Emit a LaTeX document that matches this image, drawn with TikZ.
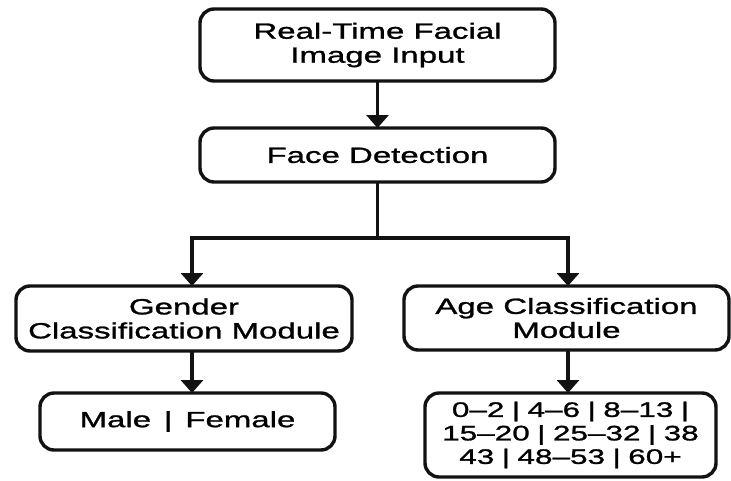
\documentclass[tikz,border=0pt]{standalone}
\usepackage{fontspec}
\setmainfont{Liberation Sans}[FakeStretch=1.5,FakeBold=1.2]
\usetikzlibrary{arrows.meta}
\newcommand\agesep{\hspace{7.5pt}|\hspace{7.5pt}}
\begin{document}
\begin{tikzpicture}[x=1pt,y=-1pt,
  box/.style={draw=black!93, line width=3.4pt, rounded corners=14pt, align=center,
    font=\fontsize{22}{24}\selectfont, inner sep=0pt, outer sep=0pt},
  wire/.style={draw=black!93, line width=3.4pt},
  flow/.style={wire, -{Triangle[width=22pt,length=13pt]}}]
\useasboundingbox[fill=white] (0,0) rectangle (731,480);

% pipeline stages
\node[box, minimum width=355pt, minimum height=72pt] (input) at (377.5,45) {Real-Time Facial\\Image Input};
\node[box, minimum width=355pt, minimum height=54pt] (face) at (377.5,155) {Face Detection};
\node[box, minimum width=336pt, minimum height=65pt] (gender) at (184,318.5) {Gender\\Classification Module};
\node[box, minimum width=325pt, minimum height=64pt] (age) at (566.5,318) {Age Classification\\Module};
\node[box, minimum width=295pt, minimum height=57pt] (male) at (187.5,421.5) {Male \,|\, Female};
\node[box, minimum width=291pt, minimum height=84pt,
  font=\fontsize{21}{23.5}\selectfont] (ages) at (570.5,435)
  {0–2\agesep 4–6\agesep 8–13\agesep\\15–20\agesep 25–32\agesep 38\\43\agesep 48–53\agesep 60+};

% connectors
\coordinate (split) at (377.5,238);
\draw[flow] (input.south) -- (face.north);
\draw[wire] (face.south) -- (split);
\draw[flow] (split) -| ([xshift=8pt]gender.north);
\draw[flow] (split) -| ([xshift=1.5pt]age.north);
\draw[flow] ([xshift=8pt]gender.south) -- ([xshift=8pt]gender.south |- male.north);
\draw[flow] ([xshift=1.5pt]age.south) -- ([xshift=1.5pt]age.south |- ages.north);
\end{tikzpicture}
\end{document}
